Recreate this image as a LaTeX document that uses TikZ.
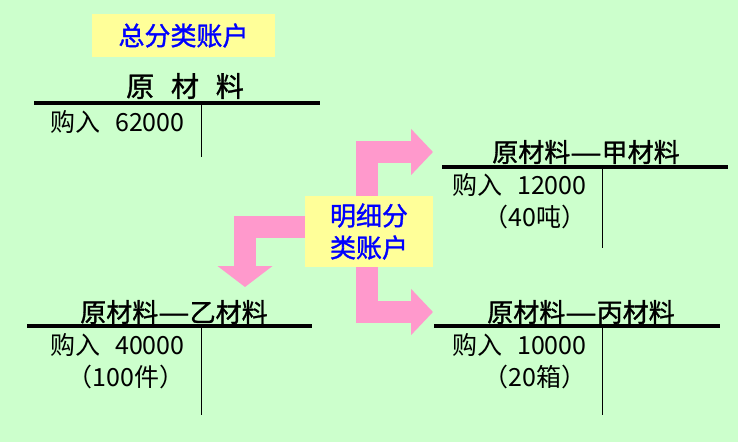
\documentclass[tikz,border=0pt]{standalone}
\usepackage{fontspec}
\setmainfont{Noto Sans CJK SC}
\newfontfamily\heavycjk[FakeBold=1.2]{Noto Sans CJK SC}
\usetikzlibrary{arrows.meta,positioning}
\definecolor{bggreen}{HTML}{CCFFCC}
\definecolor{notepad}{HTML}{FFFF99}
\definecolor{pinkarrow}{HTML}{FF99CC}
\newcommand{\longdash}{\scalebox{1.35}[1]{—}}
\tikzset{
  label box/.style={fill=notepad,text=blue,inner sep=0pt,font=\fontsize{26pt}{32pt}\selectfont\heavycjk},
  acct title/.style={inner sep=0pt,font=\fontsize{26pt}{30pt}\selectfont\heavycjk},
  acct entry/.style={inner sep=0pt,font=\fontsize{25pt}{28pt}\selectfont},
  tline/.style={line width=4pt},
  flow/.style={pinkarrow,line width=22pt,line join=miter,-{Triangle[length=22pt,width=45pt]}}
}
\begin{document}
\begin{tikzpicture}[x=1pt,y=-1pt]
    \fill[bggreen] (0,0) rectangle (738,442);
    % general ledger
    \node[label box,minimum width=183pt,minimum height=43pt] (general) at (183.5,35.5) {总分类账户};
    \node[acct title,font=\fontsize{28pt}{32pt}\selectfont\heavycjk] (rawtitle) at (185,86) {原\hspace{.6em}材\hspace{.6em}料};
    \draw[tline] (34,103) -- (320,103);
    \draw (201,103) -- (201,157);
    \node[acct entry,anchor=base west] (rawbuy) at (50,131) {购入\hspace{.6em}62000};
    % detail ledgers
    \node[label box,align=center,minimum width=128pt,minimum height=71pt] (detail) at (369,231.5) {明细分\\类账户};
    \coordinate (jiatip) at (433,152);
    \coordinate (bingtip) at (433,312);
    \coordinate (yitip) at (245,287);
    \draw[flow] ([xshift=-2pt]detail.north) |- (jiatip);
    \draw[flow] ([xshift=-2pt]detail.south) |- (bingtip);
    \draw[flow,-{Triangle[length=21pt,width=54pt]}] ([yshift=4.5pt]detail.west) -| (yitip);
    % jia
    \node[acct title] (jiatitle) at (586,152) {原材料\longdash 甲材料};
    \draw[tline] (442,167) -- (728,167);
    \draw (602,167) -- (602,248);
    \node[acct entry,anchor=base west] (jiabuy) at (452,194) {购入\hspace{.6em}12000};
    \node[acct entry,anchor=base east] (jiaqty) at ([yshift=-32pt]jiabuy.base east) {（40吨）};
    % yi
    \node[acct title] (yititle) at (174,312) {原材料\longdash 乙材料};
    \draw[tline] (27,326) -- (312,326);
    \draw (201,326) -- (201,415);
    \node[acct entry,anchor=base west] (yibuy) at (50,354) {购入\hspace{.6em}40000};
    \node[acct entry,anchor=base east] (yiqty) at ([yshift=-32pt]yibuy.base east) {（100件）};
    % bing
    \node[acct title] (bingtitle) at (581,312) {原材料\longdash 丙材料};
    \draw[tline] (434,326) -- (720,326);
    \draw (602,326) -- (602,415);
    \node[acct entry,anchor=base west] (bingbuy) at (452,354) {购入\hspace{.6em}10000};
    \node[acct entry,anchor=base east] (bingqty) at ([yshift=-32pt]bingbuy.base east) {（20箱）};
\end{tikzpicture}
\end{document}
